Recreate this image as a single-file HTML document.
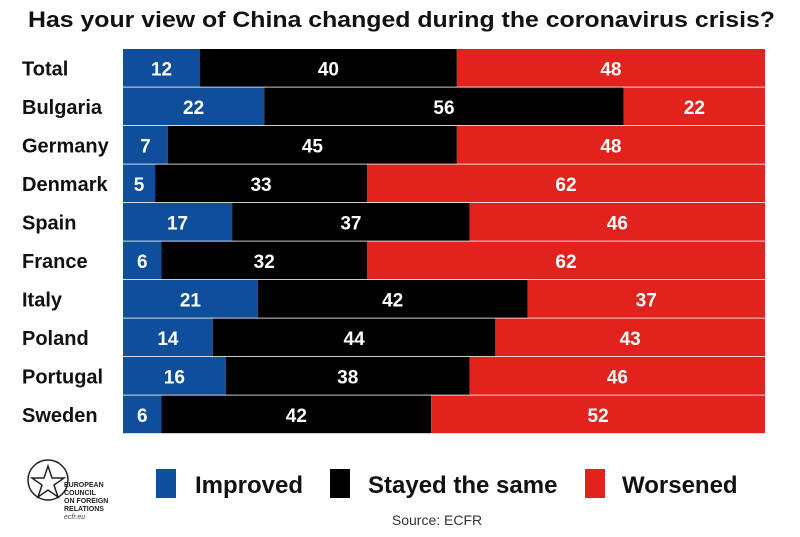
<!DOCTYPE html>
<html><head><meta charset="utf-8"><style>
body{margin:0;background:#fff;width:800px;height:532px;overflow:hidden;font-family:"Liberation Sans",sans-serif}
</style></head><body>
<svg id="c" width="800" height="532">
<text x="28" y="27" textLength="747" lengthAdjust="spacingAndGlyphs" font-size="22" font-weight="bold" fill="#111">Has your view of China changed during the coronavirus crisis?</text>
<g id="bars"></g>
<g>
<circle cx="48" cy="480" r="20" fill="none" stroke="#222" stroke-width="1.5"/>
<polygon points="48,466 52,478 64,478 54,485 58,497 48,490 38,497 42,485 32,478 44,478" fill="#fff" stroke="#222" stroke-width="1.5"/>
<text x="64" y="487" font-size="7" font-weight="bold" fill="#222">EUROPEAN</text>
<text x="64" y="495" font-size="7" font-weight="bold" fill="#222">COUNCIL</text>
<text x="64" y="503" font-size="7" font-weight="bold" fill="#222">ON FOREIGN</text>
<text x="64" y="511" font-size="7" font-weight="bold" fill="#222">RELATIONS</text>
<text x="64" y="519" font-size="7" font-style="italic" fill="#444">ecfr.eu</text>
</g>
<g>
<rect x="156" y="469" width="20" height="29" fill="#0f4e9b"/>
<text x="195" y="493" font-size="24" font-weight="bold" fill="#111">Improved</text>
<rect x="330" y="469" width="20" height="29" fill="#000"/>
<text x="368" y="493" font-size="24" font-weight="bold" fill="#111">Stayed the same</text>
<rect x="585" y="469" width="20" height="29" fill="#e2231d"/>
<text x="622" y="493" font-size="24" font-weight="bold" fill="#111">Worsened</text>
</g>
<text x="437" y="525" text-anchor="middle" font-size="14" fill="#333">Source: ECFR</text>
</svg>
<script>
const countries=["Total","Bulgaria","Germany","Denmark","Spain","France","Italy","Poland","Portugal","Sweden"];
const improved=[12,22,7,5,17,6,21,14,16,6];
const same=[40,56,45,33,37,32,42,44,38,42];
const worsened=[48,22,48,62,46,62,37,43,46,52];
const colors=["#0f4e9b","#000","#e2231d"];
const x0=123,x1=765,y0=49,rowH=38.5;
const xs=v=>x0+(x1-x0)*v/100;
const ys=i=>y0+i*rowH;
const g=document.getElementById('bars');
const NS="http://www.w3.org/2000/svg";
countries.forEach((c,i)=>{
  const t=document.createElementNS(NS,'text');
  t.setAttribute('x',22);t.setAttribute('y',ys(i)+rowH/2+7);
  t.setAttribute('font-size',20);t.setAttribute('font-weight','bold');t.setAttribute('fill','#111');
  t.textContent=c;
  
  
  g.appendChild(t);
  const vals=[improved[i],same[i],worsened[i]];
  let acc=0;
  vals.forEach((v,k)=>{
    const end=(k===2)?100:acc+v;
    const r=document.createElementNS(NS,'rect');
    r.setAttribute('x',xs(acc));r.setAttribute('y',ys(i));
    r.setAttribute('width',xs(end)-xs(acc));r.setAttribute('height',rowH-0.8);
    r.setAttribute('fill',colors[k]);
    
    
    g.appendChild(r);
    const l=document.createElementNS(NS,'text');
    l.setAttribute('x',(xs(acc)+xs(end))/2);l.setAttribute('y',ys(i)+rowH/2+7);
    l.setAttribute('text-anchor','middle');l.setAttribute('font-size',19);l.setAttribute('font-weight','bold');l.setAttribute('fill','#fff');
    l.textContent=v;
    
    
    g.appendChild(l);
    acc=end;
  });
});
</script>
</body></html>
